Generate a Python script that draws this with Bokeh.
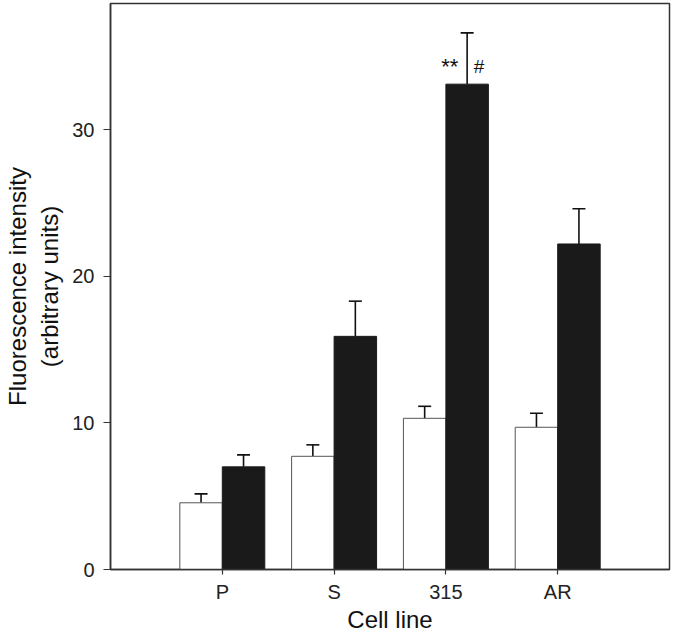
from bokeh.plotting import figure
from bokeh.models import ColumnDataSource, FactorRange, FixedTicker, Whisker, TeeHead
from bokeh.transform import dodge
from bokeh.core.properties import value
from bokeh.embed import file_html
from bokeh.resources import INLINE

# ---- data ----
cells = ["P", "S", "315", "AR"]
control = [4.55, 7.72, 10.31, 9.70]
control_err = [0.61, 0.78, 0.82, 0.96]
treated = [7.0, 15.9, 33.1, 22.2]
treated_err = [0.82, 2.4, 3.5, 2.4]
y_ticks = [0, 10, 20, 30]
sig_cell = "315"
sig_marks = ["**", "#"]

FONT = "Liberation Sans"
BW = 0.38

src = ColumnDataSource(dict(
    cell=cells,
    control=control,
    treated=treated,
    c_up=[v + e for v, e in zip(control, control_err)],
    t_up=[v + e for v, e in zip(treated, treated_err)],
))

p = figure(
    x_range=FactorRange(*cells, range_padding=0.5, range_padding_units="absolute"),
    y_range=(0, 38.6),
    width=672, height=635,
    output_backend="svg", toolbar_location=None,
    min_border_top=3, min_border_right=3, min_border_left=104, min_border_bottom=0,
)

p.vbar(x=dodge("cell", -BW / 2, range=p.x_range), top="control", bottom=0, width=BW,
       source=src, fill_color="white", line_color="#555555", line_width=1)
p.vbar(x=dodge("cell", BW / 2, range=p.x_range), top="treated", bottom=0, width=BW,
       source=src, fill_color="#1a1a1a", line_color="#1a1a1a", line_width=1)

for base_off, low, up in [(-BW / 2, "control", "c_up"), (BW / 2, "treated", "t_up")]:
    w = Whisker(source=src, base=dodge("cell", base_off, range=p.x_range),
                lower=low, upper=up, line_color="#111111", line_width=1.6,
                lower_head=None,
                upper_head=TeeHead(size=13, line_color="#111111", line_width=1.6))
    p.add_layout(w)

sig_src = ColumnDataSource(dict(x=[sig_cell]))
p.text(x=dodge("x", 0.035, range=p.x_range), y=34.3, text=value(sig_marks[0]),
       source=sig_src, text_font=value(FONT), text_font_size="22px",
       text_align="center", text_baseline="alphabetic", text_color="#111111")
p.text(x=dodge("x", 0.296, range=p.x_range), y=34.3, text=value(sig_marks[1]),
       source=sig_src, text_font=value(FONT), text_font_size="19px",
       text_align="center", text_baseline="alphabetic", text_color="#111111")

p.xgrid.visible = False
p.ygrid.visible = False
p.outline_line_color = "#333333"
p.outline_line_width = 1.5

for ax in (p.xaxis[0], p.yaxis[0]):
    ax.axis_line_color = "#333333"
    ax.axis_line_width = 1.5
    ax.major_tick_line_color = "#333333"
    ax.major_tick_line_width = 1.2
    ax.major_tick_in = 0
    ax.minor_tick_line_color = None
    ax.major_label_text_font = FONT
    ax.major_label_text_font_size = "20px"
    ax.major_label_text_color = "#222222"
    ax.axis_label_text_font = FONT
    ax.axis_label_text_font_style = "normal"
    ax.axis_label_text_color = "#111111"

p.xaxis.axis_label = "Cell line"
p.xaxis.axis_label_text_font_size = "24px"
p.xaxis.major_tick_out = 5
p.xaxis.major_label_standoff = 6
p.xaxis.axis_label_standoff = 0

p.yaxis.axis_label = "Fluorescence intensity\n(arbitrary units)"
p.yaxis.axis_label_text_font_size = "24px"
p.yaxis.ticker = FixedTicker(ticks=y_ticks)
p.yaxis.major_tick_out = 7
p.yaxis.major_label_standoff = 9
p.yaxis.axis_label_standoff = 6
p.yaxis.major_label_orientation = "horizontal"

open("out.html", "w").write(file_html(p, INLINE))
